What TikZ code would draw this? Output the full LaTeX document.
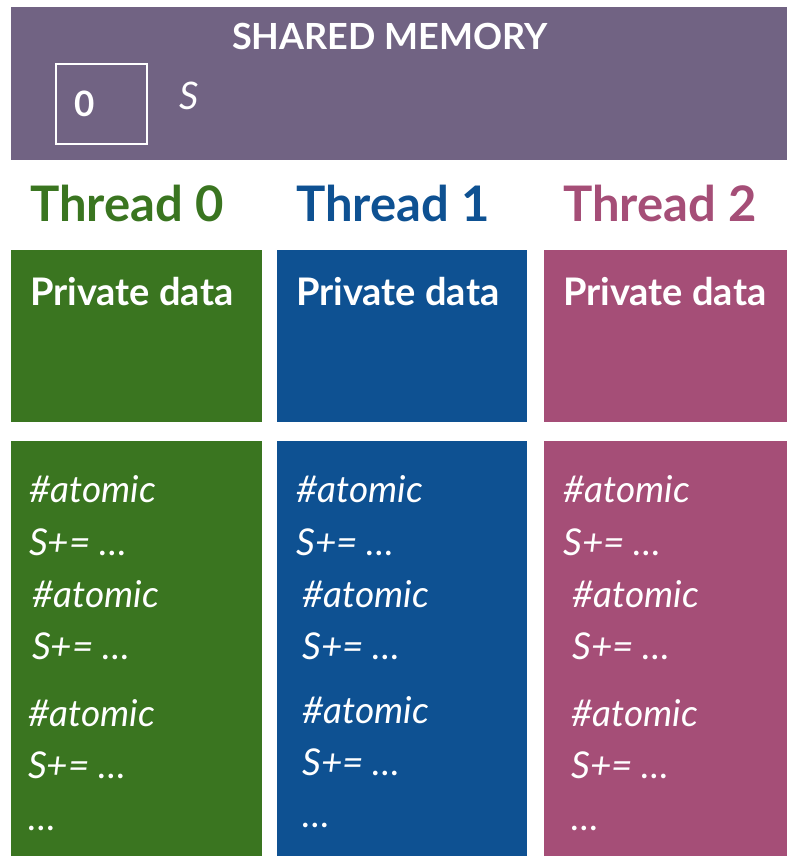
\documentclass[tikz,border=0pt]{standalone}
\usepackage{fontspec}
\setmainfont{Lato}
\definecolor{shared}{HTML}{716383}
\definecolor{tzero}{HTML}{3A7520}
\definecolor{tone}{HTML}{0E5192}
\definecolor{ttwo}{HTML}{A54E77}
\tikzset{
  txt/.style={anchor=base west, inner sep=0pt, text=white},
  head/.style={anchor=base west, inner sep=0pt, font=\fontsize{49}{49}\selectfont\bfseries},
  privlabel/.style={txt, font=\fontsize{38}{38}\selectfont\bfseries},
  code/.style={txt, font=\fontsize{37}{37}\selectfont\itshape},
}
\begin{document}
\begin{tikzpicture}[x=1pt,y=-1pt]
  \useasboundingbox (0,0) rectangle (787,856);
  % shared memory band
  \fill[shared] (11,7) rectangle (787,160);
  \node[anchor=base, inner sep=0pt, text=white, font=\fontsize{36}{36}\selectfont\bfseries] (title) at (390,50) {SHARED MEMORY};
  \node[draw=white, line width=1.5pt, minimum width=91pt, minimum height=80pt, inner sep=0pt] (cell) at (101.5,104) {};
  \node[txt, font=\fontsize{35}{35}\selectfont\bfseries] (zero) at (74,117) {0};
  \node[txt, font=\fontsize{38}{38}\selectfont\itshape] (svar) at (179,110) {S};

  % thread headings
  \node[head, text=tzero] (h0) at (30,221) {Thread 0};
  \node[head, text=tone]  (h1) at (296,221) {Thread 1};
  \node[head, text=ttwo]  (h2) at (563,221) {Thread 2};

  % private data blocks
  \fill[tzero] (11,250) rectangle (262,422);
  \fill[tone]  (277,250) rectangle (527,422);
  \fill[ttwo]  (544,250) rectangle (787,422);
  \node[privlabel] (p0) at (30,305) {Private data};
  \node[privlabel] (p1) at (296,305) {Private data};
  \node[privlabel] (p2) at (563,305) {Private data};

  % code blocks
  \fill[tzero] (11,441) rectangle (262,856);
  \fill[tone]  (277,441) rectangle (527,856);
  \fill[ttwo]  (544,441) rectangle (787,856);

  \node[code] (a0a) at (29,502) {\#atomic};
  \node[code] (s0a) at (29,555) {S+= …};
  \node[code] (a0b) at (32,607) {\#atomic};
  \node[code] (s0b) at (32,659) {S+= …};
  \node[code] (a0c) at (28,726) {\#atomic};
  \node[code] (s0c) at (28,778) {S+= …};
  \node[code] (e0)  at (28,830) {…};

  \node[code] (a1a) at (296,502) {\#atomic};
  \node[code] (s1a) at (296,555) {S+= …};
  \node[code] (a1b) at (302,607) {\#atomic};
  \node[code] (s1b) at (302,659) {S+= …};
  \node[code] (a1c) at (302,723) {\#atomic};
  \node[code] (s1c) at (302,775) {S+= …};
  \node[code] (e1)  at (302,827) {…};

  \node[code] (a2a) at (563,502) {\#atomic};
  \node[code] (s2a) at (563,555) {S+= …};
  \node[code] (a2b) at (572,607) {\#atomic};
  \node[code] (s2b) at (572,659) {S+= …};
  \node[code] (a2c) at (571,726) {\#atomic};
  \node[code] (s2c) at (571,778) {S+= …};
  \node[code] (e2)  at (571,830) {…};
\end{tikzpicture}
\end{document}
